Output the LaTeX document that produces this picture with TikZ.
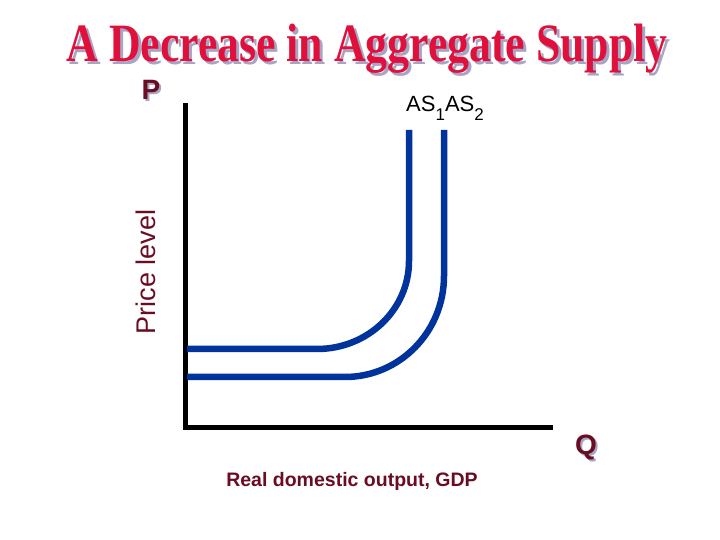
\documentclass[tikz,border=0pt]{standalone}
\usepackage{fontspec}
\setmainfont{Liberation Serif}
\setsansfont{Liberation Sans}
\definecolor{titlered}{HTML}{E0103C}
\definecolor{shadowgray}{HTML}{A8A4C4}
\definecolor{axislabel}{HTML}{6A0C22}
\definecolor{curveblue}{HTML}{00339C}

\begin{document}
\begin{tikzpicture}[x=1pt,y=1pt,
  title text/.style={anchor=base,inner sep=0pt,xscale=0.81,
    font=\bfseries\fontsize{54}{54}\selectfont},
  big letter/.style={anchor=base,inner sep=0pt,
    font=\sffamily\bfseries\fontsize{28}{28}\selectfont},
  axis/.style={line width=5pt,line join=miter},
  supply/.style={curveblue,line width=6.5pt}]
  \useasboundingbox (0,0) rectangle (720,540);
  % title with its shadow
  \node[title text,shadowgray] (titleshadow) at (370,475) {A Decrease in Aggregate Supply};
  \node[title text,titlered] (title) at (367,478) {A Decrease in Aggregate Supply};
  % axes
  \coordinate (ytop) at (185,437);
  \coordinate (origin) at (185,112);
  \coordinate (xend) at (553,112);
  \draw[axis] (ytop) -- (origin) -- (xend);
  \node[big letter,shadowgray] (pshadow) at (153,438) {P};
  \node[big letter,axislabel] (plabel) at (151,440) {P};
  \node[big letter,shadowgray] (qshadow) at (588,83) {Q};
  \node[big letter,axislabel] (qlabel) at (586,85) {Q};
  \node[rotate=90,axislabel,font=\sffamily\fontsize{27}{27}\selectfont] (ylabel) at (146,268) {Price level};
  \node[anchor=base,inner sep=0pt,axislabel,font=\sffamily\bfseries\fontsize{19.5}{19.5}\selectfont] (xlabel) at (352,53) {Real domestic output, GDP};
  % supply curves
  \draw[supply] (187,191) -- (317,191) arc[start angle=270,end angle=360,x radius=92,y radius=88] -- (409,410);
  \draw[supply] (187,163) -- (345,163) arc[start angle=270,end angle=360,x radius=99,y radius=101] -- (444,410);
  \node[anchor=base,inner sep=0pt,font=\sffamily\fontsize{22}{22}\selectfont] (aslabel) at (445,428)
    {AS\raisebox{-0.4em}{\fontsize{17}{17}\selectfont 1}AS\raisebox{-0.4em}{\fontsize{17}{17}\selectfont 2}};
\end{tikzpicture}
\end{document}
